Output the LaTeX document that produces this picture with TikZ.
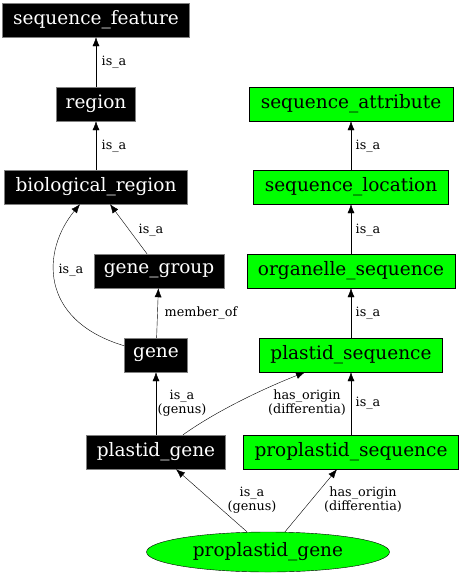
\documentclass[tikz,border=0pt]{standalone}
\usepackage{fontspec}
\setmainfont{DejaVu Serif}
\usetikzlibrary{shapes.geometric,arrows.meta}

\begin{document}
\begin{tikzpicture}[x=1pt,y=-1pt,>={Latex[length=9pt,width=7pt]},
  blk/.style={draw=gray, fill=black, text=white, minimum height=34pt, inner xsep=0pt, font=\fontsize{18.5}{20}\selectfont},
  grn/.style={draw=black, fill=green, minimum height=34pt, inner xsep=0pt, font=\fontsize{18.5}{20}\selectfont},
  lbl/.style={align=center, inner sep=0pt, font=\fontsize{12.8}{14}\selectfont}]
\useasboundingbox (0,0) rectangle (464,576);

\node[blk, minimum width=187pt] (seqfeature) at (96,20) {sequence\_feature};
\node[blk, minimum width=79pt] (region) at (96,104) {region};
\node[blk, minimum width=183pt] (bioregion) at (96,187) {biological\_region};
\node[blk, minimum width=130pt] (genegroup) at (159,271) {gene\_group};
\node[blk, minimum width=63pt] (gene) at (156,355) {gene};
\node[blk, minimum width=139pt] (plastidgene) at (156,452) {plastid\_gene};

\node[grn, minimum width=204pt] (seqattribute) at (351,104) {sequence\_attribute};
\node[grn, minimum width=195pt] (seqlocation) at (351,187) {sequence\_location};
\node[grn, minimum width=208pt] (organelleseq) at (351,271) {organelle\_sequence};
\node[grn, minimum width=183pt] (plastidseq) at (351,355) {plastid\_sequence};
\node[grn, minimum width=215pt] (proplastidseq) at (351,452) {proplastid\_sequence};

\node[draw, ellipse, fill=green, minimum width=243pt, minimum height=40pt, inner sep=0pt, font=\fontsize{18.5}{20}\selectfont] (proplastidgene) at (268,552) {proplastid\_gene};

\path[draw,->] (region) -- (seqfeature);
\path[draw,->] (bioregion) -- (region);
\path[draw,->] ([yshift=-8pt]gene.north west) .. controls (38,320) and (42,250) .. ([xshift=-16pt]bioregion.south);
\path[draw,->] ([xshift=-12pt]genegroup.north) -- ([xshift=14pt]bioregion.south);
\path[draw,->] (gene) -- (genegroup);
\path[draw,->] (plastidgene) -- (gene);
\path[draw,->] ([xshift=27pt]plastidgene.north) .. controls (215,412) and (260,390) .. ([xshift=-46pt]plastidseq.south);
\path[draw,->] (proplastidseq) -- (plastidseq);
\path[draw,->] (plastidseq) -- (organelleseq);
\path[draw,->] (organelleseq) -- (seqlocation);
\path[draw,->] (seqlocation) -- (seqattribute);
\path[draw,->] ([xshift=-21pt]proplastidgene.north) -- ([xshift=20pt]plastidgene.south);
\path[draw,->] ([xshift=17pt]proplastidgene.north) -- ([xshift=-14pt]proplastidseq.south);

\node[lbl] (l1) at (114,62) {is\_a};
\node[lbl] (l2) at (114,146) {is\_a};
\node[lbl] (l3) at (71,270) {is\_a};
\node[lbl] (l4) at (151,230) {is\_a};
\node[lbl] (l5) at (201,313) {member\_of};
\node[lbl] (l6) at (182,403) {is\_a\\(genus)};
\node[lbl] (l7) at (307,403) {has\_origin\\(differentia)};
\node[lbl] (l8) at (368,403) {is\_a};
\node[lbl] (l9) at (368,313) {is\_a};
\node[lbl] (l10) at (368,230) {is\_a};
\node[lbl] (l11) at (368,146) {is\_a};
\node[lbl] (l12) at (252,500) {is\_a\\(genus)};
\node[lbl] (l13) at (363,500) {has\_origin\\(differentia)};
\end{tikzpicture}
\end{document}
